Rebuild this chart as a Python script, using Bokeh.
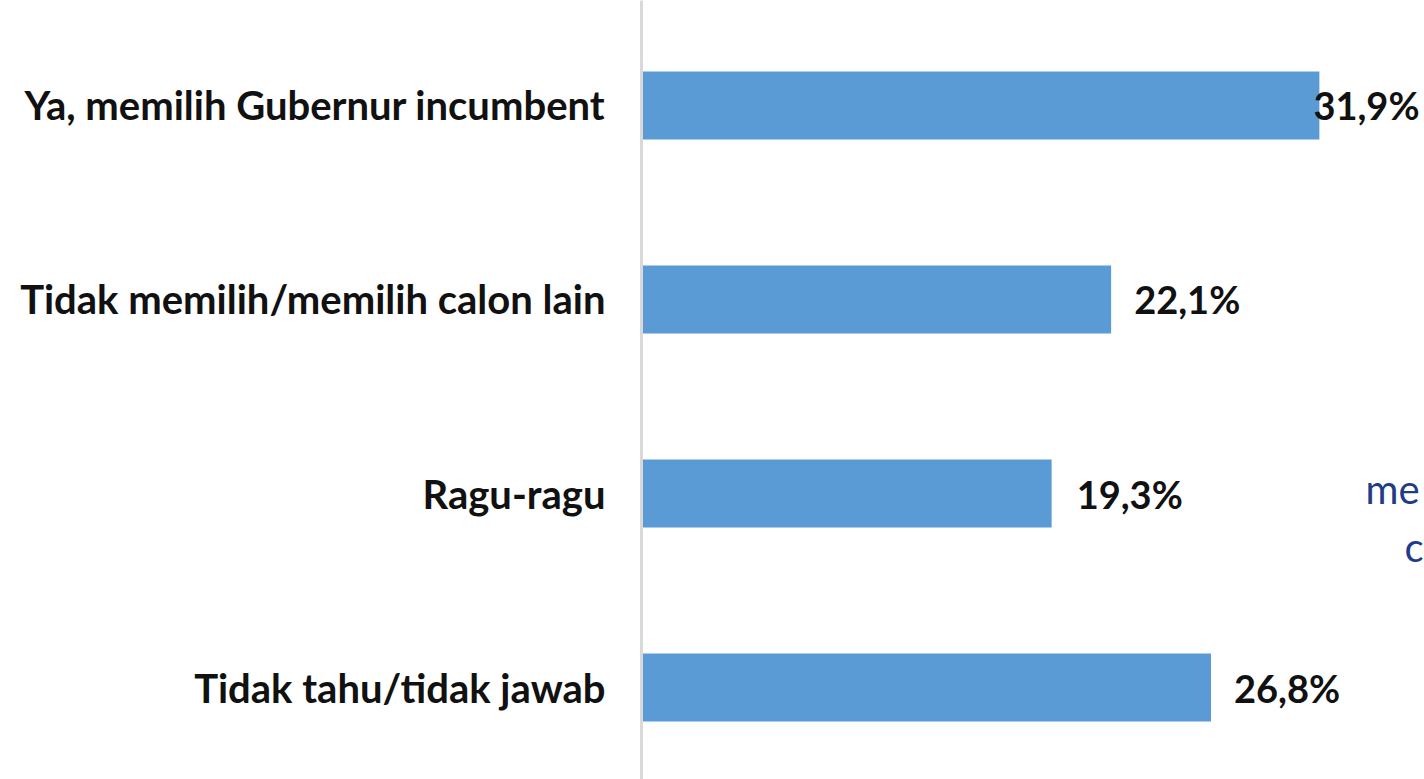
from bokeh.plotting import figure
from bokeh.models import ColumnDataSource, Range1d, FixedTicker, Label
from bokeh.core.properties import value
from bokeh.embed import file_html
from bokeh.resources import INLINE

categories = ["Ya, memilih Gubernur incumbent",
              "Tidak memilih/memilih calon lain",
              "Ragu-ragu",
              "Tidak tahu/tidak jawab"]
values = [31.9, 22.1, 19.3, 26.8]
value_labels = ["31,9%", "22,1%", "19,3%", "26,8%"]

positions = list(range(len(categories)))
label_offsets = [-6, 23, 25, 23]

FONT = "Lato"
W, H = 1424, 779
LEFT = 641

px_per_unit = 21.25
x_end = (W - LEFT) / px_per_unit

p = figure(width=W, height=H, output_backend="svg", toolbar_location=None,
           x_range=Range1d(0, x_end), y_range=Range1d(3.474, -0.541),
           x_axis_location=None, min_border_left=LEFT, min_border_right=0,
           min_border_top=0, min_border_bottom=0)
p.outline_line_color = None
p.xgrid.visible = False
p.ygrid.visible = False
p.background_fill_color = "white"
p.border_fill_color = "white"

src = ColumnDataSource(dict(y=positions, v=values, lab=value_labels, off=label_offsets))
p.hbar(y="y", right="v", left=0, height=0.35, source=src,
       fill_color="#5b9bd5", line_color=None)
p.text(x="v", y="y", text="lab", x_offset="off", source=src,
       text_font=value(FONT), text_font_style="bold", text_font_size="38px",
       text_color="#111111", text_align="left", text_baseline="middle")

ax = p.yaxis[0]
ax.ticker = FixedTicker(ticks=positions)
ax.major_label_overrides = {i: c for i, c in zip(positions, categories)}
ax.major_label_text_font = FONT
ax.major_label_text_font_style = "bold"
ax.major_label_text_font_size = "40px"
ax.major_label_text_color = "#111111"
ax.major_label_standoff = 30
ax.major_tick_line_color = None
ax.minor_tick_line_color = None
ax.axis_line_color = "#d9d9d9"
ax.axis_line_width = 3

# partially visible overlay text at the right edge of the reference
p.add_layout(Label(x=(1365 - LEFT) / px_per_unit, y=(488 - 105) / 194,
                   text="me", text_font=FONT, text_font_size="40px",
                   text_color="#1f3c88", text_baseline="middle"))
p.add_layout(Label(x=(1404 - LEFT) / px_per_unit, y=(546 - 105) / 194,
                   text="c", text_font=FONT, text_font_size="40px",
                   text_color="#1f3c88", text_baseline="middle"))

open("out.html", "w").write(file_html(p, INLINE))
